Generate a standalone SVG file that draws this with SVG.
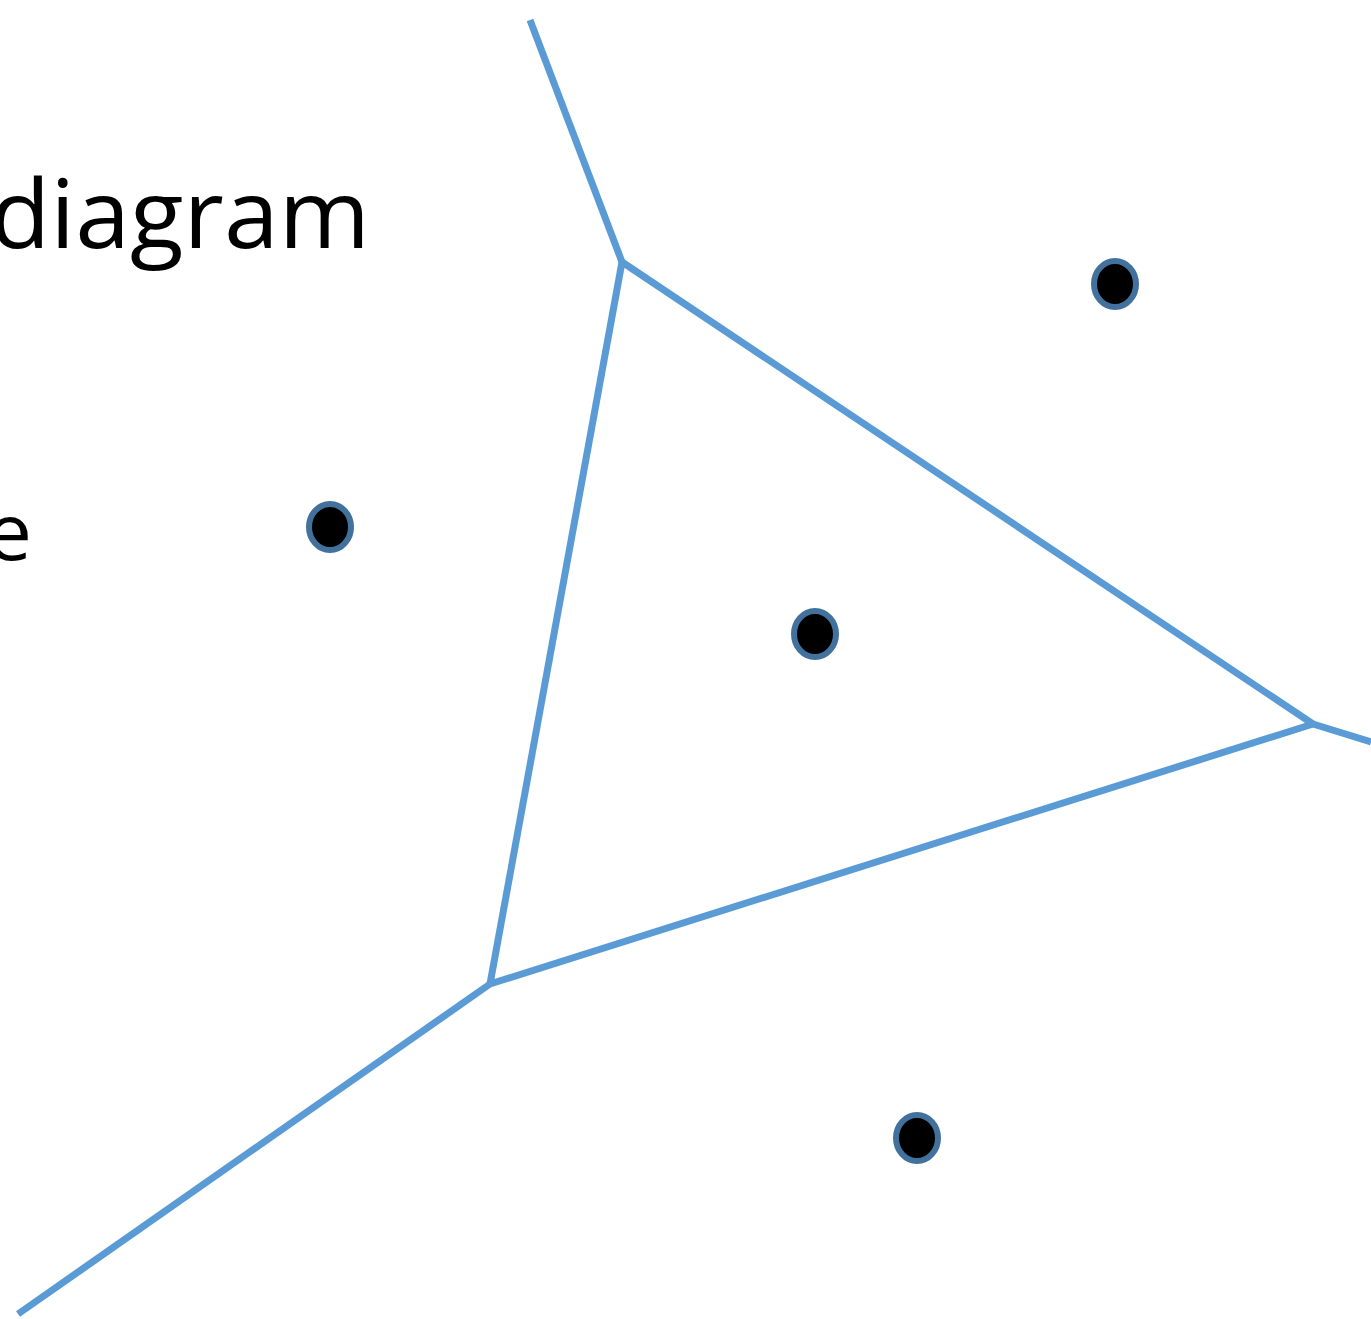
<svg xmlns="http://www.w3.org/2000/svg" width="1371" height="1319" viewBox="0 0 1371 1319">
<style>
.edge{stroke:#5B9BD5;stroke-width:7;fill:none;stroke-linecap:butt;stroke-linejoin:round}
.site{fill:#000;stroke:#41719C;stroke-width:6}
.t{font-family:"Open Sans","Liberation Sans",sans-serif;fill:#000}
</style>
<rect width="1371" height="1319" fill="#fff"/>
<g id="labels">
<text class="t" x="-10" y="248" font-size="96" textLength="380" lengthAdjust="spacingAndGlyphs">diagram</text>
<text class="t" x="-14" y="560" font-size="78" textLength="46" lengthAdjust="spacingAndGlyphs">e</text>
</g>
<g id="connectors">
<line class="edge" x1="530" y1="20" x2="622" y2="262"/>
<line class="edge" x1="622" y1="262" x2="1313" y2="724"/>
<line class="edge" x1="1313" y1="724" x2="1371" y2="742"/>
<line class="edge" x1="622" y1="262" x2="490" y2="984"/>
<line class="edge" x1="490" y1="984" x2="1313" y2="724"/>
<line class="edge" x1="490" y1="984" x2="18" y2="1314"/>
</g>
<g id="site1"><ellipse class="site" cx="1115" cy="284" rx="21" ry="23"/></g>
<g id="site2"><ellipse class="site" cx="330" cy="527" rx="21" ry="23"/></g>
<g id="site3"><ellipse class="site" cx="815" cy="634" rx="21" ry="23"/></g>
<g id="site4"><ellipse class="site" cx="917" cy="1138" rx="21" ry="23"/></g>
</svg>
